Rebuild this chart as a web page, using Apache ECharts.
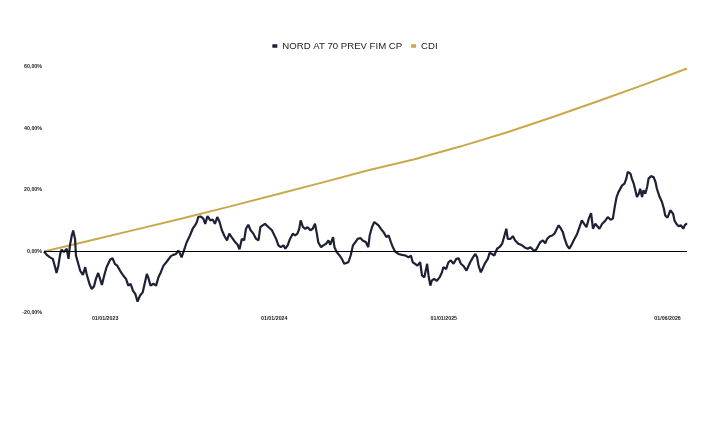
<!DOCTYPE html>
<html>
<head>
<meta charset="utf-8">
<script src="https://cdn.jsdelivr.net/npm/echarts@6/dist/echarts.min.js"></script>
<style>
    html, body { margin: 0; padding: 0; background: #fff; }
    #grafico { width: 710px; height: 427px; }
</style>
</head>
<body>
<div id="grafico"></div>
<script>
    // eixo x em dias desde 22/08/2022
    const diasNord = [
        0, 6, 13, 19, 24, 27, 31, 35, 38, 43, 49, 53, 56, 60, 63, 67, 69, 73, 78, 84,
        89, 92, 98, 103, 108, 112, 117, 121, 125, 130, 135, 143, 148, 153, 158, 164, 171, 177, 182, 187,
        192, 197, 202, 207, 213, 218, 222, 225, 230, 236, 242, 247, 252, 258, 264, 268, 274, 279, 285, 290,
        294, 297, 302, 308, 315, 321, 326, 330, 333, 338, 344, 348, 353, 359, 364, 369, 374, 379, 384, 389,
        395, 400, 405, 413, 418, 422, 427, 432, 436, 441, 446, 452, 458, 463, 467, 472, 477, 481, 485, 488,
        492, 495, 501, 506, 511, 517, 521, 526, 531, 537, 542, 547, 551, 554, 559, 564, 569, 575, 580, 585,
        589, 592, 598, 603, 609, 614, 618, 624, 627, 632, 638, 643, 648, 652, 657, 662, 667, 672, 677, 683,
        688, 695, 700, 703, 708, 713, 717, 722, 727, 733, 739, 744, 749, 753, 758, 765, 773, 780, 787, 792,
        796, 801, 806, 812, 816, 821, 827, 830, 834, 837, 842, 848, 854, 859, 862, 868, 873, 878, 884, 890,
        895, 900, 906, 912, 916, 920, 926, 931, 935, 938, 943, 948, 953, 958, 962, 967, 972, 978, 983, 989,
        994, 998, 1001, 1007, 1012, 1017, 1024, 1032, 1039, 1044, 1050, 1056, 1061, 1066, 1071, 1077, 1082, 1086, 1091, 1097,
        1102, 1107, 1111, 1116, 1120, 1124, 1129, 1134, 1140, 1145, 1151, 1156, 1161, 1166, 1171, 1176, 1181, 1185, 1190, 1194,
        1199, 1205, 1212, 1217, 1223, 1228, 1232, 1236, 1240, 1244, 1248, 1253, 1257, 1260, 1266, 1269, 1273, 1277, 1280, 1284,
        1287, 1291, 1294, 1298, 1302, 1305, 1310, 1316, 1320, 1323, 1329, 1334, 1338, 1341, 1346, 1352, 1358, 1361, 1365, 1370,
        1375, 1380, 1383, 1388
    ];
    const nord = [
        0, -1.1, -1.9, -2.4, -5.1, -7, -4.6, -0.8, 0.6, -0.2, 0.9, -2.4, 2, 5.2, 6.8, 4.1, -1.3, -3.5, -6.2, -7.6,
        -5.1, -7.3, -10.5, -12.2, -11.3, -8.9, -7, -8.9, -10.9, -7.8, -5.1, -2.6, -2.2, -4, -4.6, -6.2, -7.8, -8.9, -11.1, -10.5,
        -12.7, -13.8, -16.3, -14.4, -13.3, -10, -7.3, -8.4, -11.1, -10.5, -11.1, -8.4, -6.8, -4.6, -3.5, -2.9, -1.5, -1.1, -0.8, 0.3,
        -0.8, -1.9, 0.3, 3, 5.2, 7.4, 8.5, 9.6, 11.2, 11.4, 10.7, 9, 11.5, 10.1, 10.4, 9, 11.2, 9.6, 6.9, 5.2,
        3.6, 5.8, 4.7, 3, 2.2, 0.7, 4.1, 3.6, 7.4, 8.7, 6.9, 5.8, 4.1, 3.6, 7.9, 8.5, 9, 9.6, 7.9, 8.5,
        6.9, 6.3, 4.1, 2, 1.4, 2, 0.9, 2, 4.1, 5.8, 5.2, 5.8, 7.4, 10.1, 7.9, 7.4, 7.9, 6.9, 7.4, 9,
        5.8, 3, 1.4, 2, 2.5, 3.6, 2.2, 4.7, 1.4, -0.2, -1.3, -2.4, -4, -4.6, -3.5, -1.3, 2, 3, 4.1, 4.4,
        3.6, 3, 1.4, 5.2, 7.9, 9.6, 10.1, 8.5, 7.4, 6.3, 4.7, 5.2, 3, 1.4, 0, -0.8, -1.1, -1.3, -1.9, -1.3,
        -3.5, -4, -4.6, -3.5, -7.8, -8.4, -4, -7.8, -11.1, -9.5, -8.9, -9.5, -8.4, -6.8, -5.1, -5.7, -3.5, -2.9, -4, -2.4,
        -2.2, -4, -4.8, -6.2, -6.2, -3.5, -1.9, -0.8, -1.9, -4.6, -6.8, -5.1, -3.5, -2.4, -0.4, -0.8, -1.3, 0.9, 1.4, 2.5,
        5.2, 7.4, 4.1, 4.1, 5, 3.6, 2.5, 2, 1.2, 0.9, 1.4, 0.5, 0.3, 1.6, 3, 3.6, 2.7, 4.1, 4.9, 5.2,
        5.8, 7.4, 8.5, 7.4, 6.3, 4.1, 2, 0.9, 2.5, 4.1, 5.8, 7.9, 10.1, 9, 7.9, 10.7, 12.5, 7.4, 9, 9.6,
        7.4, 9, 10.1, 11.2, 10.3, 10.7, 14.5, 17.7, 19.3, 18.8, 21.5, 22.1, 23.7, 25.9, 25.3, 23.7, 22.1, 21.5, 17.7, 18.8,
        20.4, 17.7, 19.9, 18.8, 21, 23.7, 24.5, 24.2, 22.6, 20.4, 17.7, 16.1, 14, 11.7, 11, 13.4, 12.3, 10.1, 9, 8.2,
        8.5, 7.4, 8.5, 9.2
    ];
    const diasCdi = [0, 100, 200, 300, 400, 497, 600, 700, 800, 900, 1000, 1100, 1200, 1300, 1388];
    const cdi = [0, 3.6, 7.2, 10.8, 14.6, 18.4, 22.4, 26.4, 30.0, 34.2, 38.8, 43.8, 49.1, 54.5, 59.5];

    const posRotulosX = [132, 497, 863, 1346];
    const rotulosX = ['01/01/2023', '01/01/2024', '01/01/2025', '01/06/2026'];
    const ultimoDia = 1388;

    let myChart = echarts.init(document.getElementById('grafico'));

    let option = {
        backgroundColor: '#fff',
        animation: false,
        legend: {
            top: 36,
            left: 'center',
            itemWidth: 5,
            itemHeight: 3.5,
            itemGap: 9,
            icon: 'rect',
            textStyle: {
                fontFamily: 'Liberation Sans',
                fontSize: 9.6,
                color: '#222'
            },
            data: ['NORD AT 70 PREV FIM CP', 'CDI']
        },
        grid: {
            left: 44,
            right: 23,
            top: 67,
            bottom: 114
        },
        xAxis: {
            type: 'value',
            min: 0,
            max: ultimoDia,
            axisLine: {
                show: true,
                lineStyle: {color: '#e8e8e8', width: 1}
            },
            axisTick: {show: false},
            splitLine: {show: false},
            axisLabel: {
                customValues: posRotulosX,
                formatter: v => rotulosX[posRotulosX.indexOf(v)] || '',
                margin: 3,
                fontFamily: 'Liberation Sans',
                fontSize: 5.3,
                fontWeight: 'bold',
                color: '#222'
            }
        },
        yAxis: {
            type: 'value',
            min: -20,
            max: 60,
            interval: 20,
            axisLine: {show: false},
            axisTick: {show: false},
            splitLine: {show: false},
            axisLabel: {
                margin: 2,
                formatter: v => v.toFixed(2).replace('.', ',') + '%',
                fontFamily: 'Liberation Sans',
                fontSize: 5.3,
                fontWeight: 'bold',
                color: '#222'
            }
        },
        series: [
            {
                name: 'CDI',
                type: 'line',
                data: diasCdi.map((d, i) => [d, cdi[i]]),
                showSymbol: false,
                z: 2,
                lineStyle: {color: '#C9A84C', width: 2},
                itemStyle: {color: '#C9A84C'}
            },
            {
                name: 'NORD AT 70 PREV FIM CP',
                type: 'line',
                data: diasNord.map((d, i) => [d, nord[i]]),
                showSymbol: false,
                z: 3,
                lineStyle: {color: '#1E2134', width: 2.2},
                itemStyle: {color: '#1E2134'},
                markLine: {
                    silent: true,
                    symbol: 'none',
                    label: {show: false},
                    lineStyle: {color: '#000', width: 1, type: 'solid'},
                    data: [{yAxis: 0}]
                }
            }
        ]
    };

    myChart.setOption(option);
</script>
</body>
</html>
